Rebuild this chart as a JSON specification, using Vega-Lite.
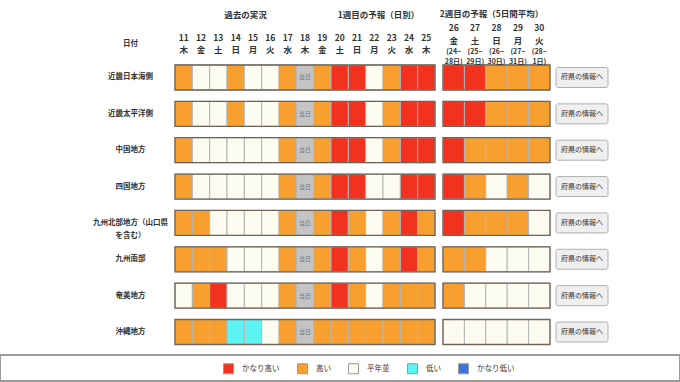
{
  "$schema": "https://vega.github.io/schema/vega-lite/v6.json",
  "width": 680,
  "height": 382,
  "autosize": {"type": "none"},
  "padding": 0,
  "background": "white",
  "config": {"view": {"stroke": null}, "font": "Noto Sans CJK JP"},
  "datasets": {
    "regions": [
      {"r": "近畿日本海側"}, {"r": "近畿太平洋側"}, {"r": "中国地方"}, {"r": "四国地方"},
      {"r": "九州北部地方（山口県を含む）"}, {"r": "九州南部"}, {"r": "奄美地方"}, {"r": "沖縄地方"}
    ],
    "daily": [
      {"r": "近畿日本海側", "d": "11", "v": "高い"}, {"r": "近畿日本海側", "d": "12", "v": "平年並"}, {"r": "近畿日本海側", "d": "13", "v": "平年並"}, {"r": "近畿日本海側", "d": "14", "v": "高い"}, {"r": "近畿日本海側", "d": "15", "v": "平年並"}, {"r": "近畿日本海側", "d": "16", "v": "平年並"}, {"r": "近畿日本海側", "d": "17", "v": "高い"}, {"r": "近畿日本海側", "d": "18", "v": "当日"}, {"r": "近畿日本海側", "d": "19", "v": "高い"}, {"r": "近畿日本海側", "d": "20", "v": "かなり高い"}, {"r": "近畿日本海側", "d": "21", "v": "かなり高い"}, {"r": "近畿日本海側", "d": "22", "v": "平年並"}, {"r": "近畿日本海側", "d": "23", "v": "高い"}, {"r": "近畿日本海側", "d": "24", "v": "かなり高い"}, {"r": "近畿日本海側", "d": "25", "v": "かなり高い"},
      {"r": "近畿太平洋側", "d": "11", "v": "高い"}, {"r": "近畿太平洋側", "d": "12", "v": "平年並"}, {"r": "近畿太平洋側", "d": "13", "v": "平年並"}, {"r": "近畿太平洋側", "d": "14", "v": "高い"}, {"r": "近畿太平洋側", "d": "15", "v": "平年並"}, {"r": "近畿太平洋側", "d": "16", "v": "平年並"}, {"r": "近畿太平洋側", "d": "17", "v": "高い"}, {"r": "近畿太平洋側", "d": "18", "v": "当日"}, {"r": "近畿太平洋側", "d": "19", "v": "高い"}, {"r": "近畿太平洋側", "d": "20", "v": "かなり高い"}, {"r": "近畿太平洋側", "d": "21", "v": "かなり高い"}, {"r": "近畿太平洋側", "d": "22", "v": "平年並"}, {"r": "近畿太平洋側", "d": "23", "v": "高い"}, {"r": "近畿太平洋側", "d": "24", "v": "かなり高い"}, {"r": "近畿太平洋側", "d": "25", "v": "かなり高い"},
      {"r": "中国地方", "d": "11", "v": "高い"}, {"r": "中国地方", "d": "12", "v": "平年並"}, {"r": "中国地方", "d": "13", "v": "平年並"}, {"r": "中国地方", "d": "14", "v": "平年並"}, {"r": "中国地方", "d": "15", "v": "平年並"}, {"r": "中国地方", "d": "16", "v": "平年並"}, {"r": "中国地方", "d": "17", "v": "高い"}, {"r": "中国地方", "d": "18", "v": "当日"}, {"r": "中国地方", "d": "19", "v": "高い"}, {"r": "中国地方", "d": "20", "v": "かなり高い"}, {"r": "中国地方", "d": "21", "v": "かなり高い"}, {"r": "中国地方", "d": "22", "v": "平年並"}, {"r": "中国地方", "d": "23", "v": "高い"}, {"r": "中国地方", "d": "24", "v": "かなり高い"}, {"r": "中国地方", "d": "25", "v": "かなり高い"},
      {"r": "四国地方", "d": "11", "v": "高い"}, {"r": "四国地方", "d": "12", "v": "平年並"}, {"r": "四国地方", "d": "13", "v": "平年並"}, {"r": "四国地方", "d": "14", "v": "平年並"}, {"r": "四国地方", "d": "15", "v": "平年並"}, {"r": "四国地方", "d": "16", "v": "平年並"}, {"r": "四国地方", "d": "17", "v": "高い"}, {"r": "四国地方", "d": "18", "v": "当日"}, {"r": "四国地方", "d": "19", "v": "高い"}, {"r": "四国地方", "d": "20", "v": "かなり高い"}, {"r": "四国地方", "d": "21", "v": "かなり高い"}, {"r": "四国地方", "d": "22", "v": "平年並"}, {"r": "四国地方", "d": "23", "v": "平年並"}, {"r": "四国地方", "d": "24", "v": "かなり高い"}, {"r": "四国地方", "d": "25", "v": "かなり高い"},
      {"r": "九州北部地方（山口県を含む）", "d": "11", "v": "高い"}, {"r": "九州北部地方（山口県を含む）", "d": "12", "v": "高い"}, {"r": "九州北部地方（山口県を含む）", "d": "13", "v": "平年並"}, {"r": "九州北部地方（山口県を含む）", "d": "14", "v": "平年並"}, {"r": "九州北部地方（山口県を含む）", "d": "15", "v": "平年並"}, {"r": "九州北部地方（山口県を含む）", "d": "16", "v": "平年並"}, {"r": "九州北部地方（山口県を含む）", "d": "17", "v": "高い"}, {"r": "九州北部地方（山口県を含む）", "d": "18", "v": "当日"}, {"r": "九州北部地方（山口県を含む）", "d": "19", "v": "高い"}, {"r": "九州北部地方（山口県を含む）", "d": "20", "v": "かなり高い"}, {"r": "九州北部地方（山口県を含む）", "d": "21", "v": "高い"}, {"r": "九州北部地方（山口県を含む）", "d": "22", "v": "平年並"}, {"r": "九州北部地方（山口県を含む）", "d": "23", "v": "高い"}, {"r": "九州北部地方（山口県を含む）", "d": "24", "v": "かなり高い"}, {"r": "九州北部地方（山口県を含む）", "d": "25", "v": "高い"},
      {"r": "九州南部", "d": "11", "v": "高い"}, {"r": "九州南部", "d": "12", "v": "高い"}, {"r": "九州南部", "d": "13", "v": "高い"}, {"r": "九州南部", "d": "14", "v": "平年並"}, {"r": "九州南部", "d": "15", "v": "平年並"}, {"r": "九州南部", "d": "16", "v": "平年並"}, {"r": "九州南部", "d": "17", "v": "高い"}, {"r": "九州南部", "d": "18", "v": "当日"}, {"r": "九州南部", "d": "19", "v": "高い"}, {"r": "九州南部", "d": "20", "v": "かなり高い"}, {"r": "九州南部", "d": "21", "v": "高い"}, {"r": "九州南部", "d": "22", "v": "平年並"}, {"r": "九州南部", "d": "23", "v": "高い"}, {"r": "九州南部", "d": "24", "v": "かなり高い"}, {"r": "九州南部", "d": "25", "v": "高い"},
      {"r": "奄美地方", "d": "11", "v": "平年並"}, {"r": "奄美地方", "d": "12", "v": "高い"}, {"r": "奄美地方", "d": "13", "v": "かなり高い"}, {"r": "奄美地方", "d": "14", "v": "平年並"}, {"r": "奄美地方", "d": "15", "v": "平年並"}, {"r": "奄美地方", "d": "16", "v": "平年並"}, {"r": "奄美地方", "d": "17", "v": "高い"}, {"r": "奄美地方", "d": "18", "v": "当日"}, {"r": "奄美地方", "d": "19", "v": "高い"}, {"r": "奄美地方", "d": "20", "v": "かなり高い"}, {"r": "奄美地方", "d": "21", "v": "高い"}, {"r": "奄美地方", "d": "22", "v": "平年並"}, {"r": "奄美地方", "d": "23", "v": "高い"}, {"r": "奄美地方", "d": "24", "v": "高い"}, {"r": "奄美地方", "d": "25", "v": "高い"},
      {"r": "沖縄地方", "d": "11", "v": "高い"}, {"r": "沖縄地方", "d": "12", "v": "高い"}, {"r": "沖縄地方", "d": "13", "v": "高い"}, {"r": "沖縄地方", "d": "14", "v": "低い"}, {"r": "沖縄地方", "d": "15", "v": "低い"}, {"r": "沖縄地方", "d": "16", "v": "平年並"}, {"r": "沖縄地方", "d": "17", "v": "高い"}, {"r": "沖縄地方", "d": "18", "v": "当日"}, {"r": "沖縄地方", "d": "19", "v": "高い"}, {"r": "沖縄地方", "d": "20", "v": "高い"}, {"r": "沖縄地方", "d": "21", "v": "高い"}, {"r": "沖縄地方", "d": "22", "v": "高い"}, {"r": "沖縄地方", "d": "23", "v": "高い"}, {"r": "沖縄地方", "d": "24", "v": "高い"}, {"r": "沖縄地方", "d": "25", "v": "高い"}
    ],
    "avg": [
      {"r": "近畿日本海側", "d": "26", "v": "かなり高い"}, {"r": "近畿日本海側", "d": "27", "v": "かなり高い"}, {"r": "近畿日本海側", "d": "28", "v": "高い"}, {"r": "近畿日本海側", "d": "29", "v": "高い"}, {"r": "近畿日本海側", "d": "30", "v": "高い"},
      {"r": "近畿太平洋側", "d": "26", "v": "かなり高い"}, {"r": "近畿太平洋側", "d": "27", "v": "かなり高い"}, {"r": "近畿太平洋側", "d": "28", "v": "高い"}, {"r": "近畿太平洋側", "d": "29", "v": "高い"}, {"r": "近畿太平洋側", "d": "30", "v": "高い"},
      {"r": "中国地方", "d": "26", "v": "かなり高い"}, {"r": "中国地方", "d": "27", "v": "高い"}, {"r": "中国地方", "d": "28", "v": "高い"}, {"r": "中国地方", "d": "29", "v": "高い"}, {"r": "中国地方", "d": "30", "v": "高い"},
      {"r": "四国地方", "d": "26", "v": "かなり高い"}, {"r": "四国地方", "d": "27", "v": "高い"}, {"r": "四国地方", "d": "28", "v": "平年並"}, {"r": "四国地方", "d": "29", "v": "高い"}, {"r": "四国地方", "d": "30", "v": "平年並"},
      {"r": "九州北部地方（山口県を含む）", "d": "26", "v": "かなり高い"}, {"r": "九州北部地方（山口県を含む）", "d": "27", "v": "高い"}, {"r": "九州北部地方（山口県を含む）", "d": "28", "v": "高い"}, {"r": "九州北部地方（山口県を含む）", "d": "29", "v": "高い"}, {"r": "九州北部地方（山口県を含む）", "d": "30", "v": "平年並"},
      {"r": "九州南部", "d": "26", "v": "高い"}, {"r": "九州南部", "d": "27", "v": "高い"}, {"r": "九州南部", "d": "28", "v": "平年並"}, {"r": "九州南部", "d": "29", "v": "平年並"}, {"r": "九州南部", "d": "30", "v": "平年並"},
      {"r": "奄美地方", "d": "26", "v": "高い"}, {"r": "奄美地方", "d": "27", "v": "平年並"}, {"r": "奄美地方", "d": "28", "v": "平年並"}, {"r": "奄美地方", "d": "29", "v": "平年並"}, {"r": "奄美地方", "d": "30", "v": "平年並"},
      {"r": "沖縄地方", "d": "26", "v": "平年並"}, {"r": "沖縄地方", "d": "27", "v": "平年並"}, {"r": "沖縄地方", "d": "28", "v": "平年並"}, {"r": "沖縄地方", "d": "29", "v": "平年並"}, {"r": "沖縄地方", "d": "30", "v": "平年並"}
    ],
    "legendArea": [{"k": "凡例"}]
  },
  "resolve": {
    "scale": {"x": "independent", "y": "independent"},
    "axis": {"x": "independent", "y": "independent"}
  },
  "layer": [
    {
      "data": {"name": "legendArea"},
      "mark": {"type": "rect", "filled": false, "stroke": "#9a9a9a", "strokeWidth": 2},
      "encoding": {
        "y": {"field": "k", "type": "nominal", "axis": null,
              "scale": {"type": "band", "domain": ["凡例"], "range": [355, 381], "paddingInner": 0, "paddingOuter": 0}}
      }
    },
    {
      "data": {"name": "daily"},
      "transform": [{"filter": {"field": "d", "oneOf": ["11", "12", "13", "14", "15", "16", "17", "18"]}}],
      "mark": {"type": "rect", "stroke": "#b4b4b4", "strokeWidth": 1},
      "encoding": {
        "x": {"field": "d", "type": "ordinal",
              "scale": {"type": "band", "domain": ["11", "12", "13", "14", "15", "16", "17", "18"], "range": [175, 313.67], "paddingInner": 0, "paddingOuter": 0},
              "axis": {"orient": "top", "offset": -65, "ticks": false, "tickSize": 0, "domain": false, "grid": false, "labelAngle": 0,
                       "labelExpr": "[datum.value, ['日','月','火','水','木','金','土'][day(datetime(2024, 6, toNumber(datum.value)))]]",
                       "labelBaseline": "top", "labelPadding": 32, "labelFontSize": 8.5, "labelFontWeight": "bold", "labelColor": "#333", "labelLineHeight": 12,
                       "title": "過去の実況", "titleX": 245, "titleY": -51, "titleFontSize": 8.5, "titleFontWeight": "bold", "titleColor": "#333", "titleBaseline": "middle"}},
        "y": {"field": "r", "type": "nominal",
              "scale": {"type": "band", "domain": ["近畿日本海側", "近畿太平洋側", "中国地方", "四国地方", "九州北部地方（山口県を含む）", "九州南部", "奄美地方", "沖縄地方"], "range": [59.3, 350.2], "paddingInner": 0.3125, "paddingOuter": 0.15625},
              "axis": {"orient": "left", "offset": -175, "ticks": false, "tickSize": 0, "domain": false, "grid": false,
                       "labelExpr": "datum.value == '九州北部地方（山口県を含む）' ? ['九州北部地方（山口県', 'を含む）'] : datum.value",
                       "labelAlign": "center", "labelBaseline": "middle", "labelPadding": 45, "labelFontSize": 7.5, "labelFontWeight": "bold", "labelColor": "#333", "labelLineHeight": 13, "labelLimit": 0,
                       "title": "日付", "titleAngle": 0, "titleX": -45, "titleY": 43, "titleAlign": "center", "titleBaseline": "middle", "titleFontSize": 7.5, "titleFontWeight": "bold", "titleColor": "#333"}},
        "color": {
          "condition": {"test": "datum.v === '当日'", "value": "#c4c4c4"},
          "field": "v", "type": "nominal",
          "scale": {"domain": ["かなり高い", "高い", "平年並", "低い", "かなり低い"], "range": ["#f2321f", "#f8a02f", "#fdfcf1", "#5cf3f3", "#3b74e2"]},
          "legend": {"title": null, "orient": "none", "legendX": 223, "legendY": 363, "direction": "horizontal", "columns": 5,
                     "symbolType": "square", "symbolSize": 100, "symbolStrokeColor": "#999", "symbolStrokeWidth": 1,
                     "labelFontSize": 7.5, "labelColor": "#333", "labelOffset": 8, "columnPadding": 15, "padding": 0,
                     "encode": {"symbols": {"update": {"stroke": {"value": "#999"}, "strokeWidth": {"value": 1}}}}}
        }
      }
    },
    {
      "data": {"name": "daily"},
      "transform": [{"filter": {"field": "d", "oneOf": ["19", "20", "21", "22", "23", "24", "25"]}}],
      "mark": {"type": "rect", "stroke": "#b4b4b4", "strokeWidth": 1},
      "encoding": {
        "x": {"field": "d", "type": "ordinal",
              "scale": {"type": "band", "domain": ["19", "20", "21", "22", "23", "24", "25"], "range": [313.67, 435], "paddingInner": 0, "paddingOuter": 0},
              "axis": {"orient": "top", "offset": -65, "ticks": false, "tickSize": 0, "domain": false, "grid": false, "labelAngle": 0,
                       "labelExpr": "[datum.value, ['日','月','火','水','木','金','土'][day(datetime(2024, 6, toNumber(datum.value)))]]",
                       "labelBaseline": "top", "labelPadding": 32, "labelFontSize": 8.5, "labelFontWeight": "bold", "labelColor": "#333", "labelLineHeight": 12,
                       "title": "1週目の予報（日別）", "titleX": 378, "titleY": -51, "titleFontSize": 8.5, "titleFontWeight": "bold", "titleColor": "#333", "titleBaseline": "middle"}},
        "y": {"field": "r", "type": "nominal", "axis": null,
              "scale": {"type": "band", "domain": ["近畿日本海側", "近畿太平洋側", "中国地方", "四国地方", "九州北部地方（山口県を含む）", "九州南部", "奄美地方", "沖縄地方"], "range": [59.3, 350.2], "paddingInner": 0.3125, "paddingOuter": 0.15625}},
        "color": {"field": "v", "type": "nominal"}
      }
    },
    {
      "data": {"name": "avg"},
      "mark": {"type": "rect", "stroke": "#b4b4b4", "strokeWidth": 1},
      "encoding": {
        "x": {"field": "d", "type": "ordinal",
              "scale": {"type": "band", "domain": ["26", "27", "28", "29", "30"], "range": [443, 550], "paddingInner": 0, "paddingOuter": 0},
              "axis": {"orient": "top", "offset": -65, "ticks": false, "tickSize": 0, "domain": false, "grid": false, "labelAngle": 0,
                       "labelExpr": "[datum.value, ['日','月','火','水','木','金','土'][day(datetime(2024, 6, toNumber(datum.value)))]]",
                       "labelBaseline": "top", "labelPadding": 42, "labelFontSize": 8.5, "labelFontWeight": "bold", "labelColor": "#333", "labelLineHeight": 13,
                       "title": "2週目の予報（5日間平均）", "titleX": 491, "titleY": -52, "titleFontSize": 8.5, "titleFontWeight": "bold", "titleColor": "#333", "titleBaseline": "middle"}},
        "y": {"field": "r", "type": "nominal", "axis": null,
              "scale": {"type": "band", "domain": ["近畿日本海側", "近畿太平洋側", "中国地方", "四国地方", "九州北部地方（山口県を含む）", "九州南部", "奄美地方", "沖縄地方"], "range": [59.3, 350.2], "paddingInner": 0.3125, "paddingOuter": 0.15625}},
        "color": {"field": "v", "type": "nominal"}
      }
    },
    {
      "data": {"name": "avg"},
      "mark": {"type": "rect", "opacity": 0},
      "encoding": {
        "x": {"field": "d", "type": "ordinal",
              "scale": {"type": "band", "domain": ["26", "27", "28", "29", "30"], "range": [443, 550], "paddingInner": 0, "paddingOuter": 0},
              "axis": {"orient": "top", "offset": -65, "ticks": false, "tickSize": 0, "domain": false, "grid": false, "labelAngle": 0, "title": null,
                       "labelExpr": "['(' + date(datetime(2024, 6, toNumber(datum.value) - 2)) + '~', date(datetime(2024, 6, toNumber(datum.value) + 2)) + '日)']",
                       "labelBaseline": "top", "labelPadding": 18, "labelFontSize": 7, "labelFontWeight": "bold", "labelColor": "#333", "labelLineHeight": 10.5}},
        "y": {"field": "r", "type": "nominal", "axis": null,
              "scale": {"type": "band", "domain": ["近畿日本海側", "近畿太平洋側", "中国地方", "四国地方", "九州北部地方（山口県を含む）", "九州南部", "奄美地方", "沖縄地方"], "range": [59.3, 350.2], "paddingInner": 0.3125, "paddingOuter": 0.15625}}
      }
    },
    {
      "data": {"name": "daily"},
      "transform": [{"filter": "datum.v === '当日'"}],
      "mark": {"type": "text", "text": "当日", "fontSize": 6, "color": "#777"},
      "encoding": {
        "x": {"field": "d", "type": "ordinal", "axis": null,
              "scale": {"type": "band", "domain": ["11", "12", "13", "14", "15", "16", "17", "18"], "range": [175, 313.67], "paddingInner": 0, "paddingOuter": 0}},
        "y": {"field": "r", "type": "nominal", "axis": null,
              "scale": {"type": "band", "domain": ["近畿日本海側", "近畿太平洋側", "中国地方", "四国地方", "九州北部地方（山口県を含む）", "九州南部", "奄美地方", "沖縄地方"], "range": [59.3, 350.2], "paddingInner": 0.3125, "paddingOuter": 0.15625}}
      }
    },
    {
      "data": {"name": "regions"},
      "mark": {"type": "rect", "filled": false, "stroke": "#6f6357", "strokeWidth": 1.3},
      "encoding": {
        "x": {"datum": "日別", "type": "nominal", "axis": null,
              "scale": {"type": "band", "domain": ["日別"], "range": [175, 435], "paddingInner": 0, "paddingOuter": 0}},
        "y": {"field": "r", "type": "nominal", "axis": null,
              "scale": {"type": "band", "domain": ["近畿日本海側", "近畿太平洋側", "中国地方", "四国地方", "九州北部地方（山口県を含む）", "九州南部", "奄美地方", "沖縄地方"], "range": [59.3, 350.2], "paddingInner": 0.3125, "paddingOuter": 0.15625}}
      }
    },
    {
      "data": {"name": "regions"},
      "mark": {"type": "rect", "filled": false, "stroke": "#6f6357", "strokeWidth": 1.3},
      "encoding": {
        "x": {"datum": "5日間平均", "type": "nominal", "axis": null,
              "scale": {"type": "band", "domain": ["5日間平均"], "range": [443, 550], "paddingInner": 0, "paddingOuter": 0}},
        "y": {"field": "r", "type": "nominal", "axis": null,
              "scale": {"type": "band", "domain": ["近畿日本海側", "近畿太平洋側", "中国地方", "四国地方", "九州北部地方（山口県を含む）", "九州南部", "奄美地方", "沖縄地方"], "range": [59.3, 350.2], "paddingInner": 0.3125, "paddingOuter": 0.15625}}
      }
    },
    {
      "data": {"name": "regions"},
      "mark": {"type": "rect", "fill": "#efefef", "stroke": "#b0b0b0", "strokeWidth": 1, "cornerRadius": 2},
      "encoding": {
        "x": {"datum": "府県", "type": "nominal", "axis": null,
              "scale": {"type": "band", "domain": ["府県"], "range": [556, 608], "paddingInner": 0, "paddingOuter": 0}},
        "y": {"field": "r", "type": "nominal", "axis": null,
              "scale": {"type": "band", "domain": ["近畿日本海側", "近畿太平洋側", "中国地方", "四国地方", "九州北部地方（山口県を含む）", "九州南部", "奄美地方", "沖縄地方"], "range": [59.3, 350.2], "paddingInner": 0.45, "paddingOuter": 0.225}}
      }
    },
    {
      "data": {"name": "regions"},
      "mark": {"type": "text", "text": "府県の情報へ", "fontSize": 7, "color": "#333"},
      "encoding": {
        "x": {"datum": "府県", "type": "nominal", "axis": null,
              "scale": {"type": "band", "domain": ["府県"], "range": [556, 608], "paddingInner": 0, "paddingOuter": 0}},
        "y": {"field": "r", "type": "nominal", "axis": null,
              "scale": {"type": "band", "domain": ["近畿日本海側", "近畿太平洋側", "中国地方", "四国地方", "九州北部地方（山口県を含む）", "九州南部", "奄美地方", "沖縄地方"], "range": [59.3, 350.2], "paddingInner": 0.45, "paddingOuter": 0.225}}
      }
    }
  ]
}
